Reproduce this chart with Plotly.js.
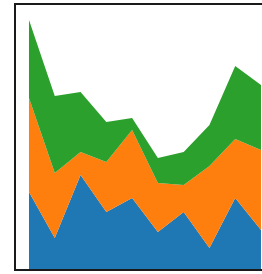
<!DOCTYPE html>
<html>
<head>
<meta charset="utf-8">
<script src="https://cdn.plot.ly/plotly-3.0.1.min.js"></script>
<style>
html, body { margin: 0; padding: 0; background: #fff; overflow: hidden; }
#chart { width: 262px; height: 274px; }
</style>
</head>
<body>
<div id="chart"></div>
<script>
var xs = [0, 1, 2, 3, 4, 5, 6, 7, 8, 9];
var seriesA = [7.7, 3.1, 9.4, 5.7, 7.1, 3.7, 5.7, 2.1, 7.1, 3.9];
var seriesB = [9.4, 6.5, 2.3, 5.0, 6.8, 4.9, 2.7, 8.2, 5.9, 8.0];
var seriesC = [7.8, 7.7, 6.0, 4.0, 1.2, 2.5, 3.3, 4.1, 7.3, 6.5];
var colors = ['#1f77b4', '#ff7f0e', '#2ca02c'];

function area(y, c) {
  return {
    x: xs, y: y, type: 'scatter', mode: 'lines',
    stackgroup: 'one', line: {width: 0, color: c},
    fillcolor: c, hoverinfo: 'skip', showlegend: false
  };
}

var data = [area(seriesA, colors[0]), area(seriesB, colors[1]), area(seriesC, colors[2])];

var layout = {
  width: 262, height: 274,
  margin: {l: 16, r: 0, t: 5, b: 5, pad: 0},
  paper_bgcolor: '#fff', plot_bgcolor: '#fff',
  showlegend: false,
  xaxis: {
    range: [-0.504, 9.039], showgrid: false, zeroline: false,
    showticklabels: false, ticks: '', showline: true, mirror: true,
    linecolor: '#1a1a1a', linewidth: 2
  },
  yaxis: {
    range: [0, 26.4], showgrid: false, zeroline: false,
    showticklabels: false, ticks: '', showline: true, mirror: false,
    linecolor: '#1a1a1a', linewidth: 2
  }
};

Plotly.newPlot('chart', data, layout, {staticPlot: true, displayModeBar: false});
</script>
</body>
</html>
